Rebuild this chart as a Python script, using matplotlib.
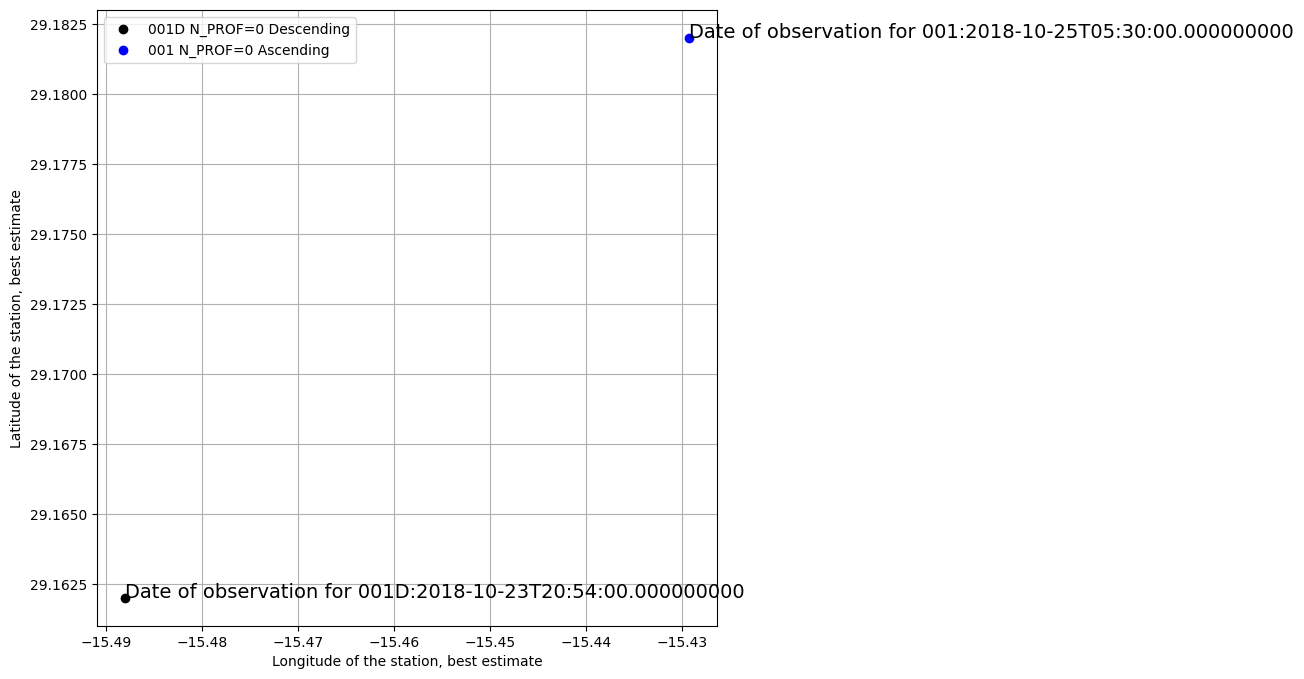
import matplotlib
matplotlib.use("Agg")
import matplotlib.pyplot as plt

# Profile positions (longitude, latitude) and observation dates
labels = ["001D N_PROF=0 Descending", "001 N_PROF=0 Ascending"]
names = ["001D", "001"]
lons = [-15.4880, -15.4293]
lats = [29.1620, 29.1820]
dates = ["2018-10-23T20:54:00.000000000", "2018-10-25T05:30:00.000000000"]
colors = ["black", "blue"]

fig = plt.figure(figsize=(13.04, 6.79), dpi=100)
ax = fig.add_axes([0.0744, 0.078, 0.4755, 0.907])

for lon, lat, lab, name, date, c in zip(lons, lats, labels, names, dates, colors):
    ax.plot(lon, lat, 'o', color=c, label=lab)
    ax.text(lon, lat, "Date of observation for " + name + ":" + date, fontsize=14)

ax.set_xlabel("Longitude of the station, best estimate")
ax.set_ylabel("Latitude of the station, best estimate")
ax.grid(True)
ax.legend(loc="upper left")

fig.savefig("out.png", dpi=100)
